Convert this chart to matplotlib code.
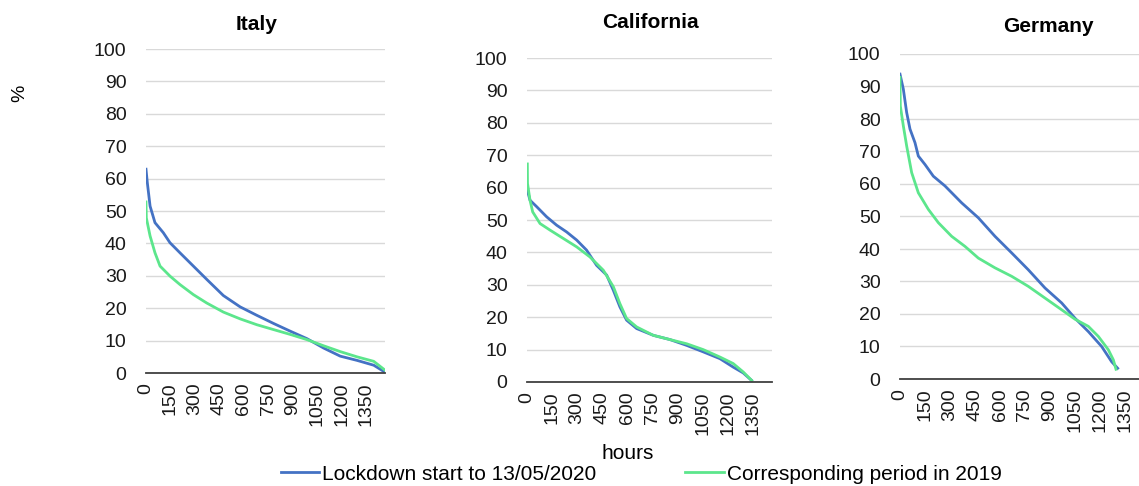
import matplotlib
matplotlib.use("Agg")
import matplotlib.pyplot as plt

plt.rcParams['font.family'] = ['Liberation Sans', 'DejaVu Sans']

# hours (x) and % values
italy_h_2020 = [0, 8, 25, 55, 106, 147, 208, 270, 372, 474, 577, 679, 781, 884, 986, 1088, 1190, 1292, 1395, 1456]
italy_2020 = [62.9, 58.8, 51.5, 46.4, 43.3, 40.2, 37.1, 34.0, 28.9, 23.9, 20.4, 17.8, 15.3, 12.9, 10.6, 7.7, 5.2, 3.9, 2.4, 0.5]
italy_h_2019 = [0, 2, 25, 55, 86, 147, 208, 290, 372, 474, 577, 679, 781, 884, 986, 1088, 1190, 1292, 1395, 1466]
italy_2019 = [52.8, 47.9, 42.3, 37.1, 33.0, 29.9, 27.3, 24.2, 21.6, 18.8, 16.7, 14.9, 13.4, 11.9, 10.3, 8.4, 6.6, 5.0, 3.6, 0.8]

cal_h_2020 = [2, 18, 58, 117, 177, 237, 297, 356, 416, 476, 516, 555, 595, 655, 755, 854, 954, 1053, 1153, 1232, 1292, 1342]
cal_2020 = [59.2, 56.1, 54.1, 51.0, 48.4, 46.3, 43.8, 40.7, 36.0, 33.0, 28.3, 23.2, 19.1, 16.5, 14.4, 13.1, 11.3, 9.3, 7.2, 4.6, 2.8, 0.5]
cal_h_2019 = [2, 3, 18, 34, 78, 137, 217, 297, 376, 456, 516, 555, 595, 655, 755, 854, 954, 1053, 1153, 1232, 1292, 1342]
cal_2019 = [67.3, 61.3, 56.1, 52.5, 48.9, 46.9, 44.3, 41.7, 38.6, 34.5, 29.4, 24.2, 19.6, 17.0, 14.4, 13.1, 11.8, 10.0, 7.7, 5.7, 3.1, 0.5]

ger_h_2020 = [0, 20, 40, 60, 90, 110, 150, 200, 270, 370, 470, 570, 670, 770, 870, 970, 1050, 1130, 1210, 1270, 1306]
ger_2020 = [93.8, 89.2, 82.0, 76.9, 72.7, 68.6, 66.0, 62.4, 59.4, 54.2, 49.6, 43.9, 38.8, 33.6, 28.0, 23.4, 18.7, 14.6, 10.0, 5.3, 3.3]
ger_h_2019 = [0, 2, 20, 40, 70, 110, 170, 230, 310, 390, 470, 570, 670, 770, 870, 970, 1050, 1130, 1190, 1250, 1280, 1296]
ger_2019 = [92.8, 84.0, 77.9, 71.7, 63.5, 57.3, 52.2, 48.1, 43.9, 40.8, 37.2, 34.2, 31.6, 28.5, 24.9, 21.3, 18.4, 16.2, 13.1, 9.0, 5.9, 3.0]

titles = ["Italy", "California", "Germany"]
x_ticks = [0, 150, 300, 450, 600, 750, 900, 1050, 1200, 1350]
y_ticks = [0, 10, 20, 30, 40, 50, 60, 70, 80, 90, 100]
label_2020 = "Lockdown start to 13/05/2020"
label_2019 = "Corresponding period in 2019"

BLUE = "#4472C4"
GREEN = "#5CE68C"

W, H = 1139, 486
fig = plt.figure(figsize=(W / 100, H / 100), dpi=100)

# axes boxes in pixels: left, right, top(y=100), bottom(y=0)
boxes = [(146, 385, 49, 373), (527, 772, 58, 382), (900, 1144, 54, 379)]
title_pos = [(257, 25), (650, 23), (1048, 27)]
series = [
    (italy_h_2020, italy_2020, italy_h_2019, italy_2019),
    (cal_h_2020, cal_2020, cal_h_2019, cal_2019),
    (ger_h_2020, ger_2020, ger_h_2019, ger_2019),
]

for i, (l, r, t, b) in enumerate(boxes):
    ax = fig.add_axes([l / W, 1 - b / H, (r - l) / W, (b - t) / H])
    h20, v20, h19, v19 = series[i]
    ax.plot(h20, v20, color=BLUE, lw=2.0, label=label_2020, zorder=3)
    ax.plot(h19, v19, color=GREEN, lw=2.0, label=label_2019, zorder=4)
    ax.set_xlim(0, 1464)
    ax.set_ylim(0, 100)
    ax.set_xticks(x_ticks)
    ax.set_xticklabels([str(v) for v in x_ticks], rotation=90, fontsize=14)
    ax.set_yticks(y_ticks)
    ax.set_yticklabels([str(v) for v in y_ticks], fontsize=14)
    ax.tick_params(axis='both', length=0)
    ax.tick_params(axis='y', pad=14)
    ax.tick_params(axis='x', pad=7)
    ax.grid(axis='y', color='#D9D9D9', lw=1.0)
    ax.set_axisbelow(True)
    for s in ['left', 'right', 'top']:
        ax.spines[s].set_visible(False)
    ax.spines['bottom'].set_color('#404040')
    ax.spines['bottom'].set_linewidth(1.3)
    ax.spines['bottom'].set_zorder(5)
    for lab in ax.get_xticklabels() + ax.get_yticklabels():
        lab.set_color('#1A1A1A')
    tx, ty = title_pos[i]
    fig.text(tx / W, 1 - ty / H, titles[i], ha='center', va='center', fontsize=15, fontweight='bold')

fig.text(20 / W, 1 - 93 / H, "%", rotation=90, ha='center', va='center', fontsize=14)
fig.text(628 / W, 1 - 453 / H, "hours", ha='center', va='center', fontsize=15)

handles = [plt.Line2D([], [], color=BLUE, lw=2), plt.Line2D([], [], color=GREEN, lw=2)]
fig.legend(handles, [label_2020, label_2019], loc='center', bbox_to_anchor=(641 / W, 1 - 474 / H),
           ncol=2, frameon=False, fontsize=15, handlelength=1.85, handletextpad=0.12,
           columnspacing=4.3, borderpad=0, borderaxespad=0)

fig.savefig("out.png", dpi=100)
